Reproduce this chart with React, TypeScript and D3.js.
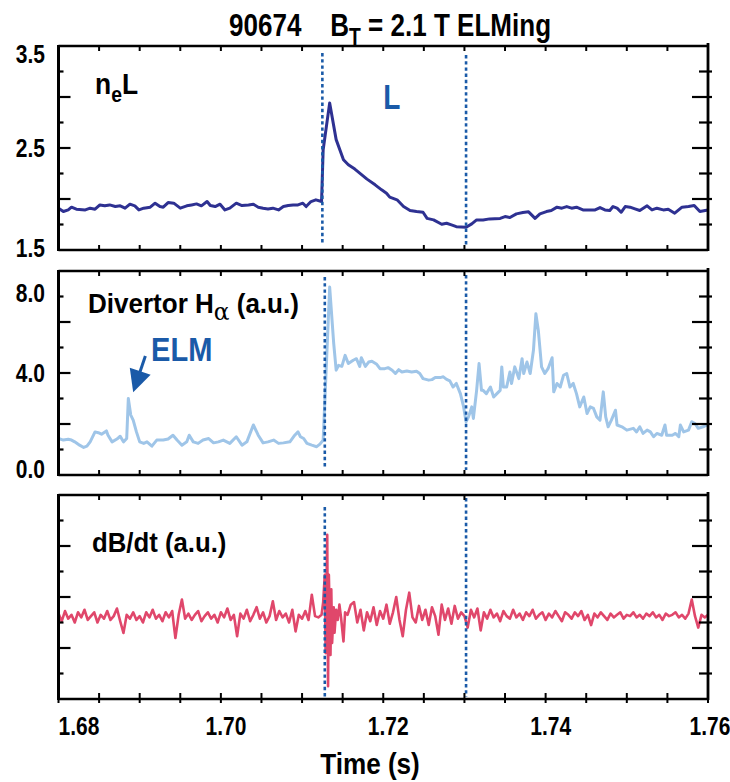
import React from "react";
import * as d3 from "d3";

// ---------------- DATA ----------------
const xTickValues = [1.68, 1.685, 1.69, 1.695, 1.7, 1.705, 1.71, 1.715, 1.72, 1.725, 1.73, 1.735, 1.74, 1.745, 1.75, 1.755, 1.76];
const xLabelValues = [1.68, 1.7, 1.72, 1.74, 1.76];
const xLabelTexts = ["1.68", "1.70", "1.72", "1.74", "1.76"];

const neMajor = [2.0, 2.5, 3.0];
const neMinor = [1.75, 2.25, 2.75, 3.25];
const neLabelValues = [3.5, 2.5, 1.5];
const neLabelTexts = ["3.5", "2.5", "1.5"];

const haMajor = [2, 4, 6];
const haMinor = [1, 3, 5, 7];
const haLabelValues = [8, 4, 0];
const haLabelTexts = ["8.0", "4.0", "0.0"];

const dbMajor = [-2, 0, 2];
const dbMinor = [-3, -1, 1, 3];

const topMarkers = [1.7125, 1.7302];
const lowerMarkers = [1.7128, 1.7302];

// line-integrated density n_e L : [time (s), value]
const neData: [number, number][] = [
  [1.68, 1.91], [1.6806, 1.877], [1.6812, 1.893], [1.6816, 1.92], [1.6822, 1.9], [1.6833, 1.893],
  [1.6839, 1.91], [1.6845, 1.9], [1.6851, 1.942], [1.6857, 1.933], [1.6863, 1.942], [1.687, 1.926],
  [1.6876, 1.933], [1.6882, 1.91], [1.6888, 1.949], [1.6894, 1.933], [1.6899, 1.893], [1.6905, 1.91],
  [1.6913, 1.92], [1.6919, 1.959], [1.6925, 1.926], [1.6929, 1.92], [1.6935, 1.965], [1.6942, 1.959],
  [1.695, 1.91], [1.6958, 1.933], [1.6964, 1.942], [1.697, 1.952], [1.6976, 1.933], [1.6983, 1.975],
  [1.6987, 1.936], [1.6993, 1.926], [1.6999, 1.949], [1.7005, 1.893], [1.7011, 1.91], [1.7019, 1.959],
  [1.7026, 1.936], [1.7034, 1.942], [1.704, 1.949], [1.7046, 1.92], [1.7052, 1.91], [1.7058, 1.903],
  [1.7064, 1.91], [1.7071, 1.893], [1.7077, 1.926], [1.7083, 1.936], [1.7089, 1.942], [1.7095, 1.942],
  [1.7101, 1.959], [1.7105, 1.926], [1.7111, 1.975], [1.7117, 1.992], [1.7124, 1.975],
  [1.7126, 2.483], [1.7134, 2.942], [1.7142, 2.582], [1.7151, 2.385], [1.7157, 2.336], [1.7165, 2.293],
  [1.7171, 2.254], [1.718, 2.195], [1.719, 2.139], [1.7198, 2.09], [1.7204, 2.057], [1.7208, 2.018],
  [1.7217, 1.992], [1.7225, 1.926], [1.7233, 1.887], [1.7241, 1.877], [1.7249, 1.87], [1.7254, 1.81],
  [1.7262, 1.795], [1.7272, 1.752], [1.7278, 1.762], [1.7284, 1.746], [1.729, 1.729], [1.7302, 1.723],
  [1.7309, 1.756], [1.7315, 1.795], [1.7323, 1.795], [1.7331, 1.805], [1.7344, 1.81], [1.735, 1.828],
  [1.7356, 1.818], [1.7364, 1.854], [1.7372, 1.867], [1.7379, 1.874], [1.7387, 1.81], [1.7393, 1.854],
  [1.7401, 1.877], [1.7407, 1.887], [1.7414, 1.92], [1.742, 1.91], [1.7426, 1.926], [1.7432, 1.91],
  [1.7438, 1.92], [1.7446, 1.893], [1.7455, 1.893], [1.7461, 1.893], [1.7467, 1.916], [1.7473, 1.893],
  [1.7479, 1.887], [1.7483, 1.926], [1.7488, 1.91], [1.7493, 1.87], [1.7498, 1.926], [1.7504, 1.92],
  [1.751, 1.903], [1.7516, 1.887], [1.7525, 1.933], [1.7531, 1.893], [1.7537, 1.91], [1.7545, 1.893],
  [1.7551, 1.9], [1.7559, 1.861], [1.7568, 1.92], [1.7576, 1.926], [1.7583, 1.936], [1.759, 1.877],
  [1.76, 1.893],
];

// divertor H-alpha (a.u.) : [time (s), value]
const haData: [number, number][] = [
  [1.68, 1.43], [1.6806, 1.37], [1.6812, 1.4], [1.6816, 1.37], [1.682, 1.3], [1.6826, 1.17],
  [1.6831, 1.08], [1.6835, 1.13], [1.6839, 1.3], [1.6845, 1.69], [1.6849, 1.66], [1.6853, 1.6],
  [1.6859, 1.73], [1.6861, 1.56], [1.6866, 1.3], [1.6872, 1.41], [1.6876, 1.52], [1.688, 1.3],
  [1.6884, 1.43], [1.6886, 3.0], [1.6889, 2.35], [1.6892, 2.15], [1.6896, 1.69], [1.69, 1.3],
  [1.6905, 1.24], [1.6909, 1.3], [1.6915, 1.13], [1.6921, 1.37], [1.6929, 1.37], [1.6935, 1.41],
  [1.6941, 1.56], [1.6946, 1.37], [1.6952, 1.17], [1.6958, 1.3], [1.6961, 1.56], [1.6966, 1.3],
  [1.6972, 1.24], [1.6978, 1.37], [1.6985, 1.43], [1.6991, 1.26], [1.6997, 1.3], [1.7003, 1.37],
  [1.7011, 1.24], [1.7019, 1.5], [1.7026, 1.17], [1.7032, 1.3], [1.704, 1.96], [1.7046, 1.56],
  [1.7052, 1.26], [1.7058, 1.3], [1.7065, 1.37], [1.7071, 1.24], [1.7077, 1.26], [1.7085, 1.3],
  [1.7091, 1.56], [1.7095, 1.69], [1.7098, 1.5], [1.7102, 1.43], [1.7106, 1.24], [1.7112, 1.17],
  [1.7118, 1.11], [1.7122, 1.21], [1.7126, 1.37], [1.7134, 7.37], [1.7139, 5.15], [1.7142, 4.11],
  [1.7145, 4.3], [1.7149, 4.26], [1.7153, 4.69], [1.7157, 4.37], [1.7163, 4.5], [1.7167, 4.56],
  [1.7171, 4.26], [1.7173, 4.6], [1.7178, 4.26], [1.7182, 4.43], [1.7186, 4.46], [1.7192, 4.34],
  [1.7196, 4.17], [1.7202, 4.17], [1.7206, 4.21], [1.7211, 4.11], [1.7215, 3.98], [1.7219, 4.13],
  [1.7223, 4.04], [1.7229, 4.08], [1.7235, 4.04], [1.7241, 4.07], [1.7245, 3.98], [1.7249, 3.78],
  [1.7256, 3.72], [1.726, 3.74], [1.7264, 3.82], [1.727, 3.82], [1.7274, 3.85], [1.7278, 3.75],
  [1.7282, 3.69], [1.7286, 3.45], [1.729, 3.59], [1.7295, 3.19], [1.7299, 2.67], [1.7302, 2.09],
  [1.7305, 2.28], [1.7309, 2.67], [1.7311, 2.22], [1.7315, 3.32], [1.7318, 4.37], [1.7321, 3.32],
  [1.7323, 3.32], [1.7327, 3.19], [1.7332, 3.45], [1.7336, 3.06], [1.734, 3.19], [1.7344, 3.32],
  [1.7346, 4.24], [1.7348, 3.45], [1.7352, 3.45], [1.7356, 4.04], [1.7358, 3.59], [1.7362, 4.24],
  [1.7367, 3.78], [1.7371, 4.56], [1.7373, 3.98], [1.7377, 4.43], [1.7381, 3.98], [1.7385, 4.89],
  [1.7388, 6.32], [1.7391, 5.67], [1.7395, 4.24], [1.7399, 3.98], [1.7403, 4.17], [1.7408, 4.6],
  [1.741, 3.26], [1.7414, 3.59], [1.7418, 3.45], [1.7422, 3.91], [1.7426, 3.98], [1.743, 3.45],
  [1.7434, 3.59], [1.7438, 3.19], [1.7442, 2.67], [1.7447, 3.06], [1.7451, 2.41], [1.7455, 2.67],
  [1.7459, 2.61], [1.7463, 2.28], [1.7467, 2.15], [1.7471, 3.26], [1.7474, 2.28], [1.7477, 1.89],
  [1.7481, 2.15], [1.7486, 2.54], [1.7488, 1.96], [1.7494, 1.89], [1.75, 1.76], [1.7508, 1.83],
  [1.7512, 1.69], [1.7516, 1.89], [1.752, 1.63], [1.7525, 1.76], [1.7529, 1.69], [1.7533, 1.5],
  [1.7537, 1.63], [1.7543, 1.56], [1.7547, 1.96], [1.7549, 1.56], [1.7556, 1.56], [1.756, 1.63],
  [1.7564, 1.5], [1.7566, 1.96], [1.757, 1.69], [1.7576, 1.76], [1.758, 2.09], [1.7584, 2.02],
  [1.7588, 1.83], [1.7594, 1.89], [1.76, 1.98],
];

// dB/dt (a.u.) sampled every 0.4 ms from 1.68 s (null = replaced by burst samples)
const dbStart = 1.68;
const dbStep = 0.0004;
const dbValues: (number | null)[] = [
  -0.65, -0.95, -0.55, -0.85, -0.7, -1.0, -0.6, -0.8, -0.5, -0.9,
  -0.75, -0.6, -1.0, -0.7, -0.85, -0.55, -0.9, -0.75, -0.45, -0.95,
  -1.41, -0.7, -0.85, -0.6, -0.9, -0.75, -1.0, -0.6, -0.8, -0.5,
  -0.85, -0.7, -0.95, -0.6, -0.8, -0.55, -1.61, -0.7, -0.1, -0.85,
  -0.65, -0.9, -0.7, -0.55, -0.95, -0.75, -0.6, -0.85, -0.7, -1.0,
  -0.6, -0.8, -0.45, -0.9, -0.7, -1.54, -0.65, -0.85, -0.5, -0.95,
  -0.7, -0.4, -0.85, -0.6, -1.0, -0.75, -0.17, -0.9, -0.55, -0.8,
  -0.65, -1.0, -0.5, -1.35, -0.7, -0.85, -0.55, -0.9, 0.09, -0.75,
  -0.8, null, null, null, null, null, null, null, null, -0.7,
  -0.3, -0.2, -1.0, -0.5, -1.31, -0.6, -0.95, -0.4, -1.1, -0.55,
  -0.85, -0.3, -1.05, -0.6, 0.0, -0.9, -1.54, -0.5, 0.17, -0.8,
  -1.0, -0.35, -0.9, -0.5, -1.1, -0.4, -0.75, -1.48, -0.3, -0.9,
  -0.45, -1.05, -0.35, -0.85, -0.6, -0.75, -1.2, -0.5, -0.8, -0.45,
  -1.31, -0.6, -0.85, -0.5, -0.8, -0.65, -0.95, -0.55, -0.75, -0.85,
  -0.5, -0.8, -0.65, -0.9, -0.6, -0.75, -0.5, -0.85, -0.7, -0.6,
  -0.9, -0.65, -0.8, -0.55, -0.75, -0.95, -0.6, -0.7, -0.85, -0.6,
  -0.75, -0.55, -0.9, -0.7, -1.1, -0.65, -0.8, -0.6, -0.75, -0.9,
  -0.65, -0.8, -0.7, -0.6, -0.85, -0.7, -0.75, -0.6, -0.8, -0.7,
  -0.85, -0.65, -0.75, -0.6, -0.8, -0.7, -0.9, -0.65, -0.75, -0.7,
  -0.6, -0.8, -0.7, -0.85, -0.65, -0.1, -0.75, -1.2, -0.7, -0.8,
  -0.7,
];
const dbBurst: [number, number][] = [
  [1.7124, -0.7], [1.7126, -0.2], [1.7128, 0.87], [1.7129, -2.2], [1.7131, 2.44], [1.7132, -3.5],
  [1.7133, 0.87], [1.7135, -2.27], [1.7136, 0.3], [1.7137, -1.8], [1.7139, -0.4], [1.714, -1.4],
  [1.7142, -0.5], [1.7144, -0.9], [1.7146, -0.3], [1.7148, -0.8], [1.7151, -1.74], [1.7153, -0.6],
];

// annotations (data units)
const elmArrow = { fromT: 1.6907, fromV: 4.67, toT: 1.6892, toV: 3.25 };
const elmLabel = { t: 1.6914, v: 4.47, text: "ELM" };
const lLabel = { t: 1.72, v: 2.88, text: "L" };

// ---------------- STYLE ----------------
const FONT = "'Liberation Sans', Arial, Helvetica, sans-serif";
const X0 = 58.5;
const X1 = 708;
const NAVY = "#2e3192";
const LIGHT = "#9fc5e8";
const RED = "#e0476b";
const BLUE = "#1a5aa8";

const x = d3.scaleLinear().domain([1.68, 1.76]).range([X0, X1]);

function CT(props: any) {
  const { x, y, sx = 0.9, anchor = "start", size = 24, fill = "#000", children } = props;
  return (
    <text
      transform={`translate(${x},${y}) scale(${sx},1)`}
      textAnchor={anchor}
      fontSize={size}
      fontWeight="bold"
      fontFamily={FONT}
      fill={fill}
    >
      {children}
    </text>
  );
}

function Panel(props: any) {
  const { top, bottom, domain, major, minor, labelValues, labelTexts, labelDy, isLast, markers, markerTop, markerBottom } = props;
  const y = d3.scaleLinear().domain(domain).range([bottom, top]);
  const els: any[] = [];
  xTickValues.forEach((t, i) => {
    const xx = x(t);
    els.push(<line key={"tt" + i} x1={xx} x2={xx} y1={top} y2={top + 5} stroke="#000" strokeWidth={2} />);
    if (isLast) {
      els.push(<line key={"bt" + i} x1={xx} x2={xx} y1={bottom - 6} y2={bottom + 4} stroke="#000" strokeWidth={2} />);
    } else {
      els.push(<line key={"bt" + i} x1={xx} x2={xx} y1={bottom} y2={bottom - 5} stroke="#000" strokeWidth={2} />);
    }
  });
  major.forEach((v: number, i: number) => {
    const yy = y(v);
    els.push(<line key={"lm" + i} x1={X0} x2={X0 + 12} y1={yy} y2={yy} stroke="#000" strokeWidth={2.2} />);
    els.push(<line key={"rm" + i} x1={X1 - 16} x2={X1 + 4} y1={yy} y2={yy} stroke="#000" strokeWidth={2.2} />);
  });
  minor.forEach((v: number, i: number) => {
    const yy = y(v);
    els.push(<line key={"ln" + i} x1={X0} x2={X0 + 5} y1={yy} y2={yy} stroke="#000" strokeWidth={2.2} />);
    els.push(<line key={"rn" + i} x1={X1 - 9} x2={X1 + 4} y1={yy} y2={yy} stroke="#000" strokeWidth={2.2} />);
  });
  (labelValues || []).forEach((v: number, i: number) => {
    els.push(
      <CT key={"lab" + i} x={45} y={y(v) + labelDy[i]} anchor="end" size={25} sx={0.84}>
        {labelTexts[i]}
      </CT>
    );
  });
  const markerEls = markers.map((t: number, i: number) => (
    <line
      key={"mk" + i}
      x1={x(t)}
      x2={x(t)}
      y1={markerTop[i]}
      y2={markerBottom[i]}
      stroke={BLUE}
      strokeWidth={2.6}
      strokeDasharray="3.4 2.8"
    />
  ));
  return (
    <g>
      {props.children && props.children(y)}
      {markerEls}
      <line x1={X0} x2={X1} y1={top} y2={top} stroke="#000" strokeWidth={2.6} />
      <line x1={X0} x2={X1} y1={bottom} y2={bottom} stroke="#000" strokeWidth={2.6} />
      <line x1={X0} x2={X0} y1={top - 1} y2={bottom + 1} stroke="#000" strokeWidth={3} />
      <line x1={X1} x2={X1} y1={top - 3} y2={bottom + 1} stroke="#000" strokeWidth={2.8} />
      {els}
    </g>
  );
}

export default function App() {
  const dbRegular: [number, number][] = [];
  dbValues.forEach((v, i) => {
    if (v !== null) dbRegular.push([dbStart + i * dbStep, v]);
  });
  const dbData = dbRegular.concat(dbBurst).sort((a, b) => a[0] - b[0]);

  const mkLine = (y: any) =>
    d3
      .line<[number, number]>()
      .x((d) => x(d[0]))
      .y((d) => y(d[1]));

  return (
    <svg width={730} height={782} style={{ position: "absolute", left: 0, top: 0, background: "#fff" }}>
      <rect width={730} height={782} fill="#fff" />
      {/* title */}
      <text transform="translate(390,36) scale(0.84,1)" textAnchor="middle" fontSize={31} fontWeight="bold" fontFamily={FONT}>
        <tspan>90674</tspan>
        <tspan xmlSpace="preserve">{"    B"}</tspan>
        <tspan fontSize={23} dy={9}>T</tspan>
        <tspan dy={-9}>{" = 2.1 T ELMing"}</tspan>
      </text>

      {/* top panel */}
      <Panel
        top={46}
        bottom={250}
        domain={[1.5, 3.5]}
        major={neMajor}
        minor={neMinor}
        labelValues={neLabelValues}
        labelTexts={neLabelTexts}
        labelDy={[17, 9, 7]}
        markers={topMarkers}
        markerTop={[53, 55]}
        markerBottom={[244, 247]}
      >
        {(y: any) => (
          <g>
            <path d={mkLine(y)(neData) || ""} fill="none" stroke={NAVY} strokeWidth={3} strokeLinejoin="round" />
            <CT x={x(lLabel.t)} y={y(lLabel.v)} size={35} sx={0.8} fill={BLUE}>
              {lLabel.text}
            </CT>
          </g>
        )}
      </Panel>
      <text transform="translate(95,94) scale(0.88,1)" fontSize={30} fontWeight="bold" fontFamily={FONT}>
        <tspan>n</tspan>
        <tspan fontSize={22} dy={8}>e</tspan>
        <tspan dy={-8}>L</tspan>
      </text>

      {/* middle panel */}
      <Panel
        top={271}
        bottom={475}
        domain={[0, 8]}
        major={haMajor}
        minor={haMinor}
        labelValues={haLabelValues}
        labelTexts={haLabelTexts}
        labelDy={[31, 9, 3]}
        markers={lowerMarkers}
        markerTop={[277, 275]}
        markerBottom={[468, 470]}
      >
        {(y: any) => (
          <g>
            <path d={mkLine(y)(haData) || ""} fill="none" stroke={LIGHT} strokeWidth={3} strokeLinejoin="round" />
            <line
              x1={x(elmArrow.fromT)}
              y1={y(elmArrow.fromV)}
              x2={x(elmArrow.toT) + (x(elmArrow.fromT) - x(elmArrow.toT)) * 0.45}
              y2={y(elmArrow.toV) + (y(elmArrow.fromV) - y(elmArrow.toV)) * 0.45}
              stroke={BLUE}
              strokeWidth={3}
            />
            {(() => {
              const tx = x(elmArrow.toT);
              const ty = y(elmArrow.toV);
              const fx = x(elmArrow.fromT);
              const fy = y(elmArrow.fromV);
              const len = Math.hypot(fx - tx, fy - ty);
              const ux = (fx - tx) / len;
              const uy = (fy - ty) / len;
              const hl = 22;
              const hw = 11;
              const bx = tx + ux * hl;
              const by = ty + uy * hl;
              const pts = [
                [tx, ty],
                [bx - uy * hw, by + ux * hw],
                [bx + uy * hw, by - ux * hw],
              ];
              return <polygon points={pts.map((p) => p.join(",")).join(" ")} fill={BLUE} />;
            })()}
            <CT x={x(elmLabel.t)} y={y(elmLabel.v)} size={33} sx={0.88} fill={BLUE}>
              {elmLabel.text}
            </CT>
          </g>
        )}
      </Panel>
      <text transform="translate(88,313) scale(0.93,1)" fontSize={28} fontWeight="bold" fontFamily={FONT}>
        <tspan>Divertor H</tspan>
        <tspan fontSize={25} dy={7} fontFamily="'DejaVu Serif', serif" fontWeight="normal">α</tspan>
        <tspan dy={-7}>{" (a.u.)"}</tspan>
      </text>

      {/* bottom panel */}
      <Panel
        top={495}
        bottom={699}
        domain={[-4, 4]}
        major={dbMajor}
        minor={dbMinor}
        labelValues={[]}
        labelTexts={[]}
        labelDy={[]}
        isLast={true}
        markers={lowerMarkers}
        markerTop={[507, 498]}
        markerBottom={[697, 697]}
      >
        {(y: any) => (
          <path d={mkLine(y)(dbData) || ""} fill="none" stroke={RED} strokeWidth={2.6} strokeLinejoin="round" />
        )}
      </Panel>
      <CT x={92} y={552} size={28} sx={0.92}>
        dB/dt (a.u.)
      </CT>

      {/* x tick labels */}
      {xLabelValues.map((t, i) => (
        <CT
          key={"xl" + i}
          x={i === 0 ? X0 : x(t) + (i === xLabelValues.length - 1 ? 2 : 5)}
          y={735}
          anchor={i === 0 ? "start" : "middle"}
          size={25}
          sx={0.84}
        >
          {xLabelTexts[i]}
        </CT>
      ))}
      <CT x={370} y={774} anchor="middle" size={30} sx={0.87}>
        Time (s)
      </CT>
    </svg>
  );
}
